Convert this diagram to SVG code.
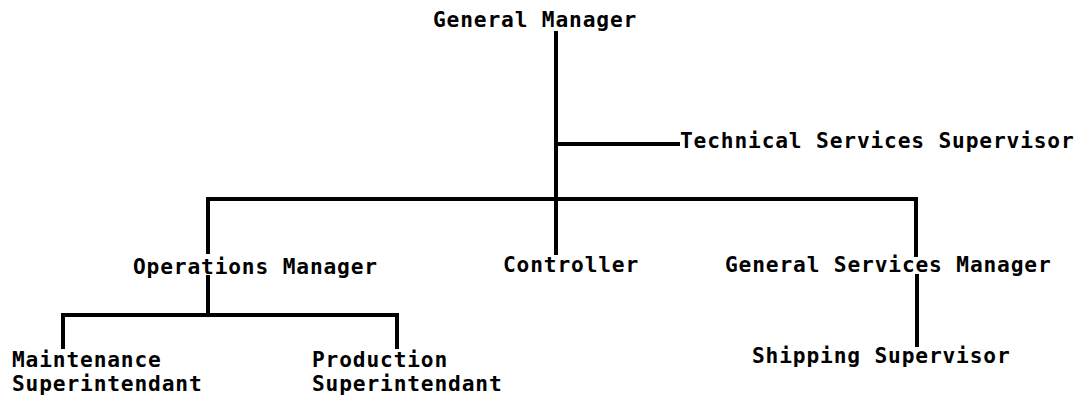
<svg xmlns="http://www.w3.org/2000/svg" width="1085" height="401" viewBox="0 0 1085 401">
  <style>
    .label { font-family: "DejaVu Sans Mono", "Liberation Mono", monospace; font-size: 21.2px; letter-spacing: 0.85px; font-weight: bold; fill: #000; }
    .wire { stroke: #000; stroke-width: 4; fill: none; stroke-linecap: square; }
  </style>
  <rect width="1085" height="401" fill="#fff"/>

  <!-- reporting lines -->
  <g id="connectors">
    <path class="wire" d="M556 33 V199"/>
    <path class="wire" d="M556 144 H678"/>
    <path class="wire" d="M208 199 H916"/>
    <path class="wire" d="M208 199 V252"/>
    <path class="wire" d="M556 199 V253"/>
    <path class="wire" d="M916 199 V255"/>
    <path class="wire" d="M917 276 V345"/>
    <path class="wire" d="M208 277 V315"/>
    <path class="wire" d="M63 315 H397"/>
    <path class="wire" d="M63 315 V347"/>
    <path class="wire" d="M397 315 V347"/>
  </g>

  <g id="general-manager"><text class="label" x="433" y="27">General Manager</text></g>
  <g id="technical-services-supervisor"><text class="label" x="680" y="148">Technical Services Supervisor</text></g>
  <g id="operations-manager"><text class="label" x="133" y="274">Operations Manager</text></g>
  <g id="controller"><text class="label" x="503" y="272">Controller</text></g>
  <g id="general-services-manager"><text class="label" x="725" y="272">General Services Manager</text></g>
  <g id="maintenance-superintendant">
    <text class="label" x="12" y="367">Maintenance</text>
    <text class="label" x="12" y="391">Superintendant</text>
  </g>
  <g id="production-superintendant">
    <text class="label" x="312" y="367">Production</text>
    <text class="label" x="312" y="391">Superintendant</text>
  </g>
  <g id="shipping-supervisor"><text class="label" x="752" y="363">Shipping Supervisor</text></g>
</svg>
